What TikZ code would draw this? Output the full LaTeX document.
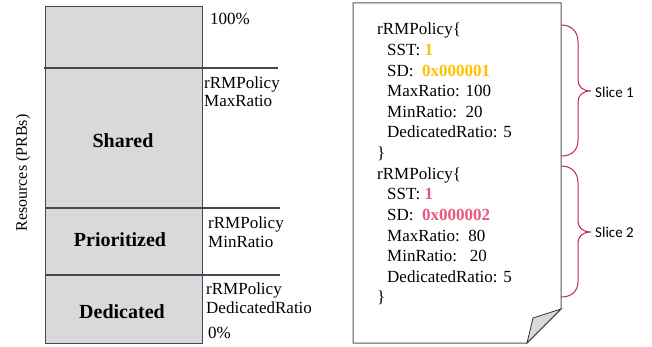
\documentclass[tikz,border=0pt]{standalone}
\usepackage{fontspec}
\setmainfont{Liberation Serif}
\newfontfamily\slicefont{Carlito}
\definecolor{boxgray}{HTML}{D9D9D9}
\definecolor{boxline}{HTML}{3F4A55}
\definecolor{docline}{HTML}{595959}
\definecolor{sgold}{HTML}{FFC000}
\definecolor{spink}{HTML}{E8587C}
\definecolor{bracecol}{HTML}{C0284F}
\begin{document}
\begin{tikzpicture}[x=1pt,y=-1pt,
  txt/.style={inner sep=0pt, anchor=base west, font=\fontsize{17}{20}\selectfont},
  bold/.style={inner sep=0pt, anchor=base, font=\fontsize{20}{23}\selectfont\bfseries},
  slicelbl/.style={inner sep=0pt, anchor=west, font=\fontsize{15}{18}\slicefont},
  brace/.style={draw=bracecol, line width=1pt}]
\useasboundingbox (0,0) rectangle (652,347);
% left resource bar
\fill[boxgray] (45,7) rectangle (202,343);
\draw[boxline, line width=1pt] (45,7) rectangle (202,343);
\draw[boxline, line width=1.2pt] (44,68) -- (278,68);
\draw[boxline, line width=1.2pt] (45,208) -- (280,208);
\draw[boxline, line width=1.2pt] (45,275) -- (280,275);
\node[bold] (shared) at (123,148) {Shared};
\node[bold] (prio) at (120,246) {Prioritized};
\node[bold] (ded) at (122,318) {Dedicated};
\node[txt] (p100) at (210,25) {100\%};
\node[txt] (max1) at (204,89) {rRMPolicy};
\node[txt] (max2) at (204,107) {MaxRatio};
\node[txt] (min1) at (208,228) {rRMPolicy};
\node[txt] (min2) at (208,247) {MinRatio};
\node[txt] (dr1) at (206,294) {rRMPolicy};
\node[txt] (dr2) at (206,313) {DedicatedRatio};
\node[txt] (p0) at (208,338) {0\%};
\node[inner sep=0pt, rotate=90, font=\fontsize{16}{19}\selectfont] (axis) at (23,173) {Resources (PRBs)};
% document
\draw[docline, line width=1pt, fill=white] (353,3) -- (561,3) -- (561,309) -- (527,343) -- (353,343) -- cycle;
\draw[black!80, line width=0.8pt, fill=boxgray] (561,309) -- (533,318) -- (527,343) -- cycle;
\node[txt] (a1) at (377,35) {rRMPolicy\{};
\node[txt] (a2) at (387,55.6) {SST: \textcolor{sgold}{\bfseries 1}};
\node[txt] (a3) at (387,76.2) {SD:\ \ \textcolor{sgold}{\bfseries 0x000001}};
\node[txt] (a4) at (387,96.8) {MaxRatio: 100};
\node[txt] (a5) at (387,117.4) {MinRatio:\ \ 20};
\node[txt] (a6) at (387,138) {DedicatedRatio: 5};
\node[txt] (a7) at (377,158.6) {\}};
\node[txt] (b1) at (377,179.2) {rRMPolicy\{};
\node[txt] (b2) at (387,199.8) {SST: \textcolor{spink}{\bfseries 1}};
\node[txt] (b3) at (387,220.4) {SD:\ \ \textcolor{spink}{\bfseries 0x000002}};
\node[txt] (b4) at (387,241) {MaxRatio:\ \ 80};
\node[txt] (b5) at (387,261.6) {MinRatio:\ \ \ 20};
\node[txt] (b6) at (387,282.2) {DedicatedRatio: 5};
\node[txt] (b7) at (377,302.8) {\}};
% braces
\coordinate (s1top) at (561,25);
\coordinate (s1bot) at (561,156);
\coordinate (s1tip) at (591,91);
\coordinate (s2top) at (561,166);
\coordinate (s2bot) at (561,297);
\coordinate (s2tip) at (591,232);
\draw[brace] (s1top) .. controls (571,25) and (578,31) .. (578,42) -- (578,80)
  .. controls (578,87) and (583,91) .. (s1tip)
  .. controls (583,91) and (578,95) .. (578,102) -- (578,140)
  .. controls (578,151) and (571,156) .. (s1bot);
\draw[brace] (s2top) .. controls (571,166) and (578,172) .. (578,183) -- (578,221)
  .. controls (578,228) and (583,232) .. (s2tip)
  .. controls (583,232) and (578,236) .. (578,243) -- (578,281)
  .. controls (578,292) and (571,297) .. (s2bot);
\node[slicelbl] (sl1) at (595,92) {Slice 1};
\node[slicelbl] (sl2) at (595,232) {Slice 2};
\end{tikzpicture}
\end{document}
